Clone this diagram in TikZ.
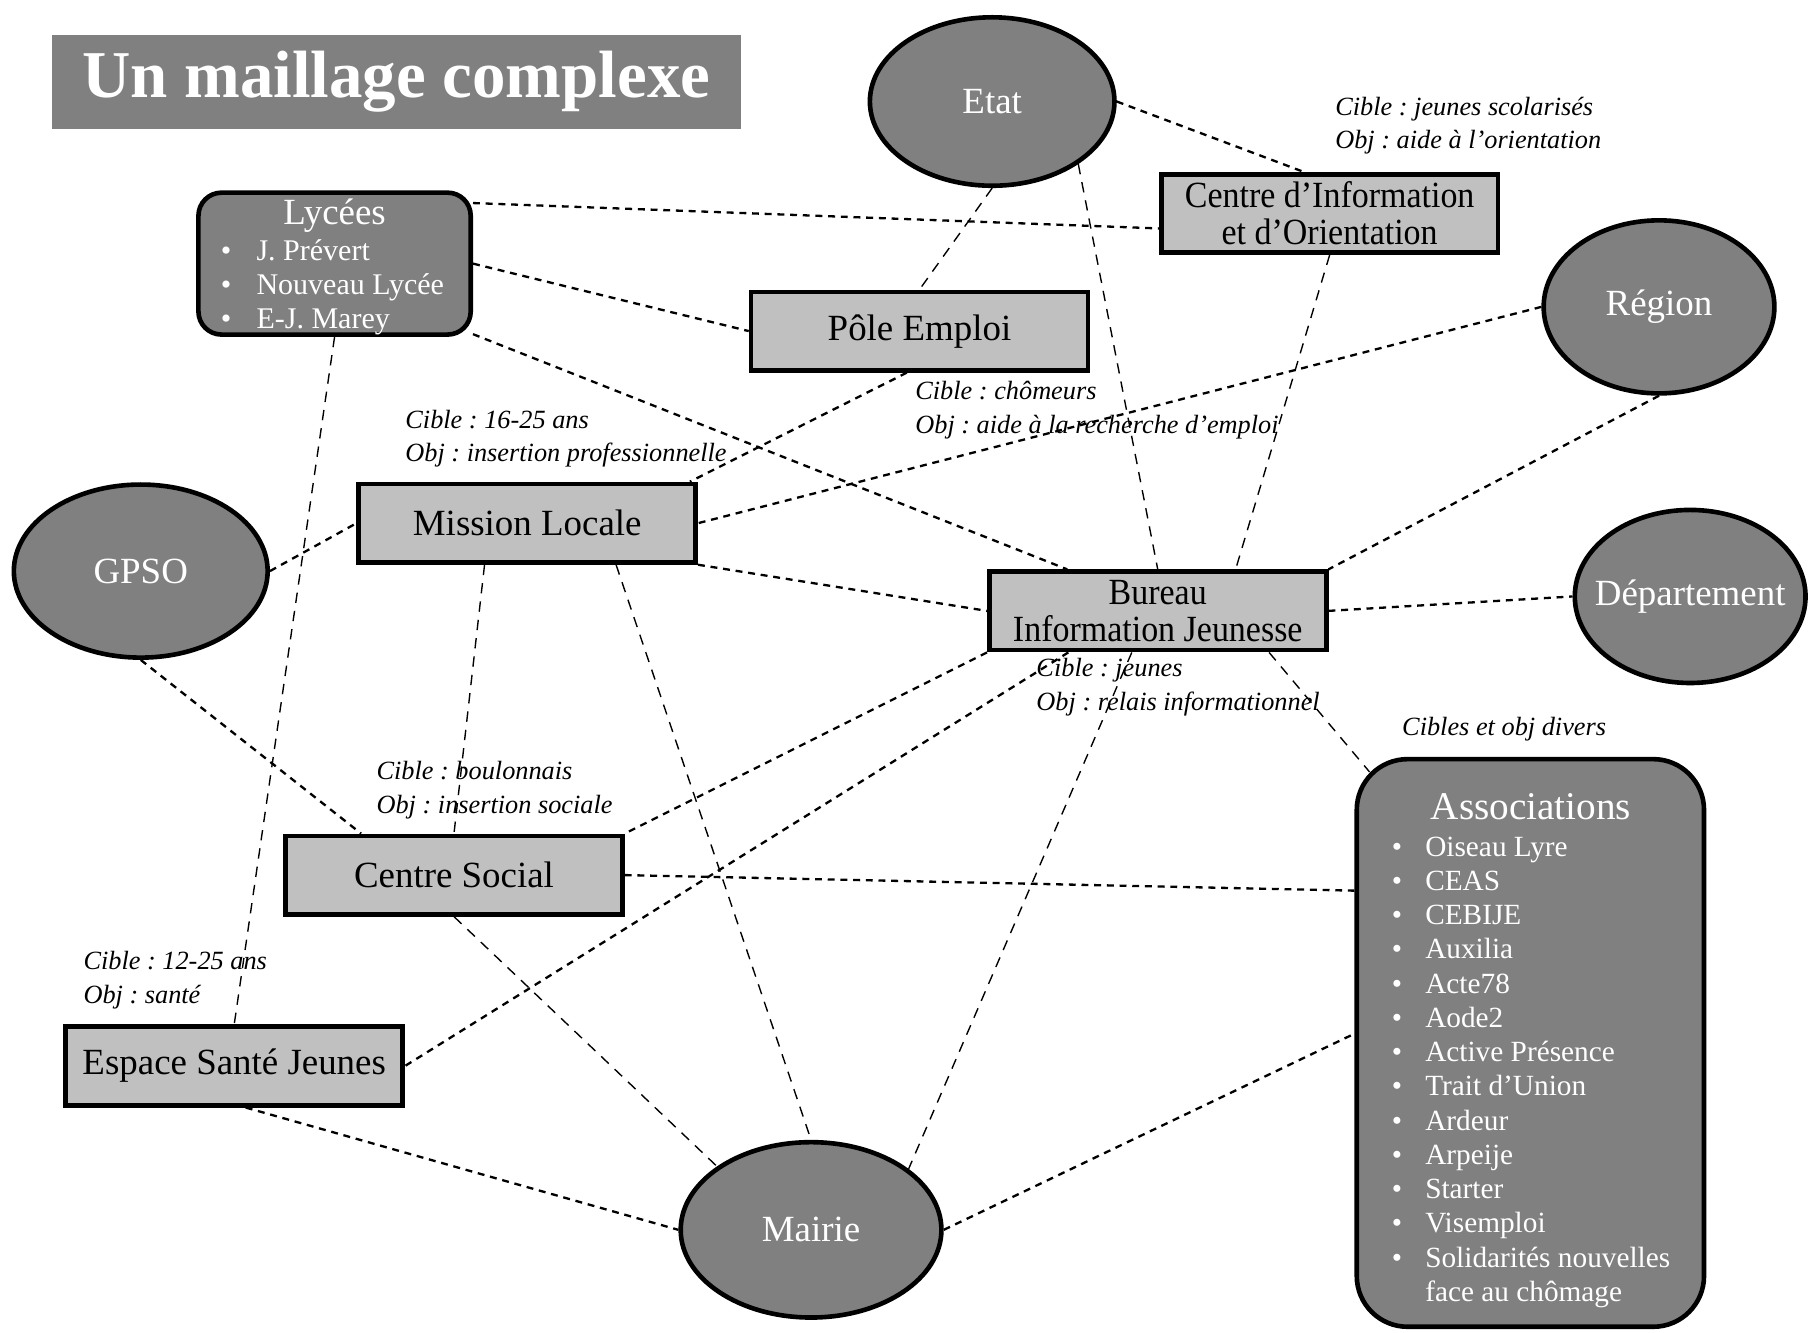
\documentclass[tikz,border=0pt]{standalone}
\usepackage{fontspec}
\setmainfont{Liberation Serif}
\newfontfamily\condf[FakeStretch=0.92]{Liberation Serif}
\usetikzlibrary{shapes.geometric,calc}
\definecolor{darkg}{RGB}{128,128,128}
\definecolor{lightg}{RGB}{192,192,192}
\frenchspacing
\begin{document}
\begin{tikzpicture}[x=0.5pt,y=-0.5pt,
 boxn/.style={draw=black, line width=2pt, fill=lightg, minimum width=146pt, minimum height=34pt, inner sep=0pt, font=\fontsize{16}{16}\selectfont, align=center},
 oval/.style={ellipse, draw=black, line width=2pt, fill=darkg, inner sep=0pt, label={[text=white, font=\fontsize{16}{18}\selectfont]center:#1}},
 rbox/.style={draw=black, line width=2pt, fill=darkg, inner sep=0pt},
 lbl/.style={font=\fontsize{11.4}{14.5}\selectfont\itshape, align=left, inner sep=0pt, anchor=west},
 lk/.style={line width=1pt, dash pattern=on 3pt off 2.5pt},
 lkthin/.style={line width=0.6pt, dash pattern=on 4.5pt off 3.5pt},
 wtxt/.style={text=white, inner sep=0pt},
]
\useasboundingbox (0,0) rectangle (1568,1155);

% title
\node[fill=darkg, minimum width=298.5pt, minimum height=41pt, inner sep=0pt, text=white, font=\fontsize{29}{29}\selectfont\bfseries] (title) at (343.5,71) {Un maillage complexe};

% ellipses
\node[oval=Etat, minimum width=106pt, minimum height=73pt] (etat) at (860,88) {};
\node[oval=Région, minimum width=100pt, minimum height=75pt] (region) at (1438,266) {};
\node[oval=GPSO, minimum width=110pt, minimum height=75pt] (gpso) at (122,495) {};
\node[oval=Département, minimum width=100pt, minimum height=75pt] (dept) at (1465,517) {};
\node[oval=Mairie, minimum width=113pt, minimum height=76pt] (mairie) at (703,1066) {};

% boxes
\node[boxn] (pole) at (797,287) {Pôle Emploi};
\node[boxn, font=\fontsize{16}{16}\condf] (cio) at (1152.5,185) {Centre d’Information\\et d’Orientation};
\node[boxn] (ml) at (457,453.5) {Mission Locale};
\node[boxn, font=\fontsize{16}{16}\condf] (bij) at (1003.5,529.5) {Bureau\\Information Jeunesse};
\node[boxn] (cs) at (393.5,758.5) {Centre Social};
\node[boxn] (esj) at (203,924) {Espace Santé Jeunes};

% rounded boxes
\node[rbox, rounded corners=10pt, minimum width=118pt, minimum height=61.5pt] (lyc) at (290,228.5) {};
\node[wtxt, font=\fontsize{16}{16}\selectfont] (lyct) at (290,187) {Lycées};
\node[wtxt, anchor=base west, font=\fontsize{13}{14.75}\selectfont] (lycl) at (191,226) {\begin{tabular}[t]{@{}p{15.5pt}@{}l@{}}\textbullet & J. Prévert\\ \textbullet & Nouveau Lycée\\ \textbullet & E-J. Marey\end{tabular}};

\node[rbox, rounded corners=22pt, minimum width=150.5pt, minimum height=246pt] (assoc) at (1326.5,904) {};
\node[wtxt, font=\fontsize{17}{17}\selectfont] (asst) at (1327,699) {Associations};
\node[wtxt, anchor=base west, font=\fontsize{12.7}{14.85}\selectfont] (assl) at (1206,742) {\begin{tabular}[t]{@{}p{14.5pt}@{}l@{}}\textbullet & Oiseau Lyre\\ \textbullet & CEAS\\ \textbullet & CEBIJE\\ \textbullet & Auxilia\\ \textbullet & Acte78\\ \textbullet & Aode2\\ \textbullet & Active Présence\\ \textbullet & Trait d’Union\\ \textbullet & Ardeur\\ \textbullet & Arpeije\\ \textbullet & Starter\\ \textbullet & Visemploi\\ \textbullet & Solidarités nouvelles\\ & face au chômage\end{tabular}};

% labels
\node[lbl] (lcio) at (1157,109) {Cible : jeunes scolarisés\\Obj : aide à l’orientation};
\node[lbl] (lpole) at (793,355.5) {Cible : chômeurs\\Obj : aide à la recherche d’emploi};
\node[lbl] (lml) at (351,380) {Cible : 16-25 ans\\Obj : insertion professionnelle};
\node[lbl] (lbij) at (898,595.5) {Cible : jeunes\\Obj : relais informationnel};
\node[lbl] (lcs) at (326,685) {Cible : boulonnais\\Obj : insertion sociale};
\node[lbl] (lesj) at (72,849.5) {Cible : 12-25 ans\\Obj : santé};
\node[lbl] (lass) at (1215,632) {Cibles et obj divers};

% connectors
\draw[lk] (etat.east) -- ([xshift=-11.25pt]cio.north);
\draw[lkthin] (etat.south) -- (pole.north);
\draw[lkthin] (etat.-36) -- (bij.north);
\draw[lk] ([yshift=-5.5pt]lyc.north east) -- ([yshift=-6.5pt]cio.west);
\draw[lk] (lyc.east) -- (pole.west);
\draw[lk] (lyc.-27) -- ([xshift=-39.25pt]bij.north);
\draw[lkthin] (lyc.south) -- (esj.north);
\draw[lk] ([xshift=-5.5pt]pole.south) -- ([xshift=-3.5pt]ml.north east);
\draw[lkthin] (cio.south) -- ([xshift=33.75pt]bij.north);
\draw[lk] (region.west) -- (ml.east);
\draw[lk] (region.south) -- (bij.north east);
\draw[lk] (gpso.east) -- (ml.west);
\draw[lk] (gpso.south) -- ([xshift=-40.25pt]cs.north);
\draw[lk] (ml.south east) -- (bij.west);
\draw[lkthin] ([xshift=-18.5pt]ml.south) -- (cs.north);
\draw[lkthin] ([xshift=38.5pt]ml.south) -- (mairie.north);
\draw[lk] (bij.east) -- (dept.west);
\draw[lkthin] ([xshift=48.25pt]bij.south) -- ([xshift=6.5pt,yshift=-6.5pt]assoc.north west);
\draw[lk] (bij.south west) -- (cs.north east);
\draw[lk] ([xshift=-38.75pt]bij.south) -- (esj.east);
\draw[lkthin] ([xshift=-11.25pt]bij.south) -- (mairie.32);
\draw[lk] (cs.east) -- ([yshift=66pt]assoc.west);
\draw[lkthin] (cs.south) -- (mairie.146);
\draw[lk] ([xshift=5pt]esj.south) -- (mairie.west);
\draw[lk] (mairie.east) -- ([yshift=4pt]assoc.west);
\end{tikzpicture}
\end{document}
